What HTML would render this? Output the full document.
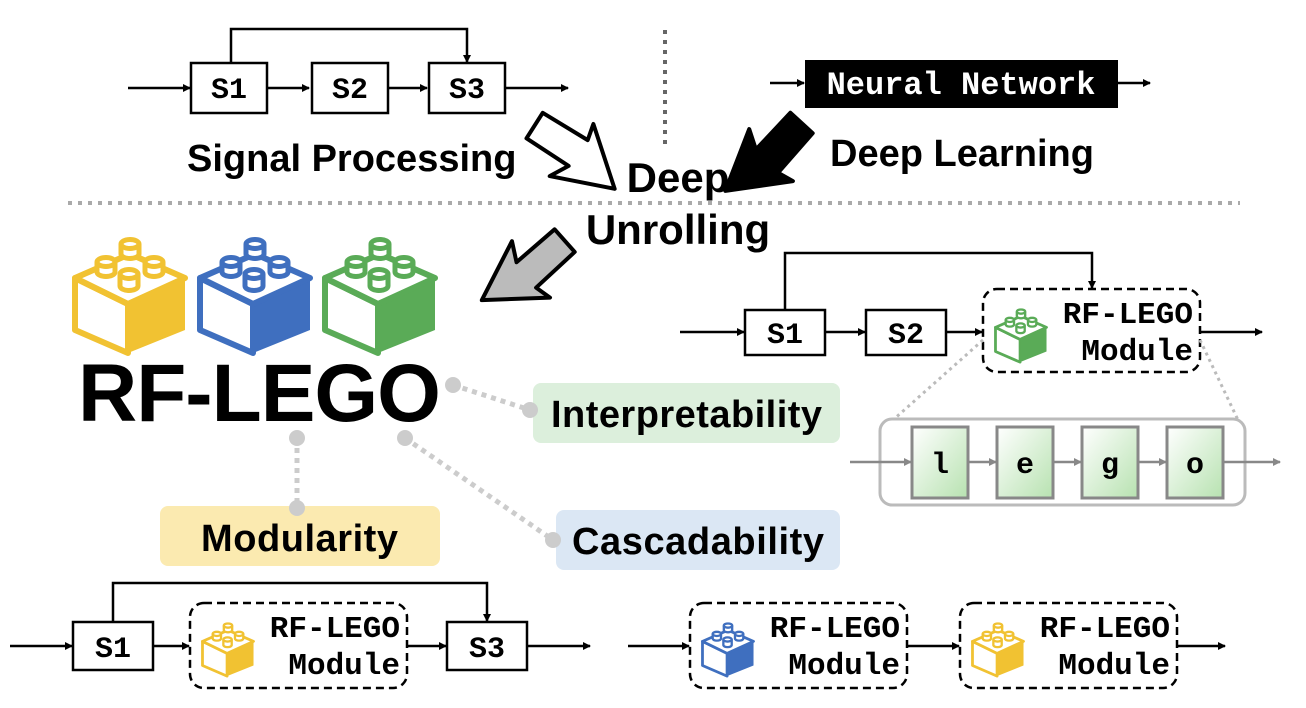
<!DOCTYPE html>
<html><head><meta charset="utf-8"><style>
html,body{margin:0;padding:0;background:#fff;}
svg{display:block;}
.m{font-family:"Liberation Mono",monospace;font-weight:bold;}
.s{font-family:"Liberation Sans",sans-serif;font-weight:bold;}
</style></head><body>
<svg width="1306" height="708" viewBox="0 0 1306 708" xmlns="http://www.w3.org/2000/svg">
<defs>
<marker id="ah" markerWidth="8" markerHeight="8" refX="7" refY="4" orient="auto" markerUnits="userSpaceOnUse"><path d="M0,0L8,4L0,8z" fill="#000"/></marker>
<marker id="ag" markerWidth="8" markerHeight="8" refX="7" refY="4" orient="auto" markerUnits="userSpaceOnUse"><path d="M0,0L8,4L0,8z" fill="#888"/></marker>
<linearGradient id="gg" x1="0" y1="0" x2="1" y2="1"><stop offset="0" stop-color="#fff"/><stop offset="1" stop-color="#b7e2b0"/></linearGradient>
<symbol id="lego" viewBox="0 0 120 125">
 <g stroke-width="6" stroke-linejoin="round">
  <polygon points="5,46 58,72 58,121 5,98" fill="#fff"/>
  <polygon points="58,72 115,46 115,98 58,121" stroke="none"/>
  <polygon points="5,46 60,22 115,46 58,72" fill="#fff"/>
  <g fill="#fff" stroke-width="5">
   <path d="M51,12 v10 a9,4.5 0 0 0 18,0 v-10"/><ellipse cx="60" cy="12" rx="9" ry="4.5"/>
   <path d="M27,30 v10 a9,4.5 0 0 0 18,0 v-10"/><ellipse cx="36" cy="30" rx="9" ry="4.5"/>
   <path d="M75,30 v10 a9,4.5 0 0 0 18,0 v-10"/><ellipse cx="84" cy="30" rx="9" ry="4.5"/>
   <path d="M50,42 v12 a9,4.5 0 0 0 18,0 v-12"/><ellipse cx="59" cy="42" rx="9" ry="4.5"/>
  </g>
 </g>
</symbol>
</defs>

<g stroke="#000" stroke-width="2.5" fill="none">
 <line x1="128" y1="88" x2="190" y2="88" marker-end="url(#ah)"/>
 <rect x="191" y="63" width="76" height="50" fill="#fff"/>
 <line x1="267" y1="88" x2="309" y2="88" marker-end="url(#ah)"/>
 <rect x="312" y="63" width="76" height="50" fill="#fff"/>
 <line x1="388" y1="88" x2="427" y2="88" marker-end="url(#ah)"/>
 <rect x="429" y="63" width="76" height="50" fill="#fff"/>
 <line x1="505" y1="88" x2="568" y2="88" marker-end="url(#ah)"/>
 <polyline points="231,63 231,29 467,29 467,62" marker-end="url(#ah)"/>
</g>
<g class="m" font-size="30" text-anchor="middle">
 <text x="229" y="98">S1</text><text x="350" y="98">S2</text><text x="467" y="98">S3</text>
</g>
<text class="s" x="187" y="171" font-size="38">Signal Processing</text>

<line x1="665" y1="30" x2="665" y2="150" stroke="#666" stroke-width="4" stroke-dasharray="4,6"/>
<line x1="68" y1="203" x2="1240" y2="203" stroke="#aaa" stroke-width="4" stroke-dasharray="4,6"/>

<line x1="770" y1="83" x2="804" y2="83" stroke="#000" stroke-width="2.5" marker-end="url(#ah)"/>
<rect x="805" y="60" width="313" height="48" fill="#000"/>
<text class="m" x="961" y="94" font-size="32" fill="#fff" text-anchor="middle">Neural Network</text>
<line x1="1118" y1="83" x2="1150" y2="83" stroke="#000" stroke-width="2.5" marker-end="url(#ah)"/>
<text class="s" x="830" y="166" font-size="38">Deep Learning</text>

<text class="s" x="678" y="192" font-size="42" text-anchor="middle">Deep</text>
<text class="s" x="678" y="244" font-size="42" text-anchor="middle">Unrolling</text>

<g stroke="#000" stroke-width="4" stroke-linejoin="round">
 <polygon transform="translate(535,122) rotate(40)" points="0,-12 52,-20 46,-36 104,0 46,32 54,12 4,18" fill="#fff"/>
 <polygon transform="translate(805,124) rotate(140)" points="0,-12 52,-20 46,-36 104,0 46,32 54,12 4,18" fill="#000"/>
 <polygon transform="translate(568,242) rotate(146)" points="0,-12 52,-20 46,-36 104,0 46,32 54,12 4,18" fill="#bbb"/>
</g>

<use href="#lego" x="70" y="232" width="120" height="125" fill="#f1c232" stroke="#f1c232"/>
<use href="#lego" x="195" y="232" width="120" height="125" fill="#3f6fbf" stroke="#3f6fbf"/>
<use href="#lego" x="320" y="232" width="120" height="125" fill="#5aab57" stroke="#5aab57"/>
<text class="s" x="78" y="421" font-size="82" letter-spacing="-1">RF-LEGO</text>

<g stroke="#ccc" stroke-width="5" stroke-dasharray="5,5" fill="none">
 <line x1="453" y1="385" x2="530" y2="410"/>
 <line x1="405" y1="438" x2="553" y2="540"/>
 <line x1="297" y1="438" x2="297" y2="508"/>
</g>
<rect x="533" y="383" width="307" height="60" rx="8" fill="#dcefdc"/>
<rect x="556" y="510" width="284" height="60" rx="8" fill="#dbe7f4"/>
<rect x="160" y="506" width="280" height="60" rx="8" fill="#fbeab0"/>
<g fill="#ccc">
 <circle cx="453" cy="385" r="8"/><circle cx="530" cy="410" r="8"/>
 <circle cx="405" cy="438" r="8"/><circle cx="553" cy="540" r="8"/>
 <circle cx="297" cy="438" r="8"/><circle cx="297" cy="508" r="8"/>
</g>
<text class="s" x="551" y="427" font-size="38" textLength="271">Interpretability</text>
<text class="s" x="572" y="554" font-size="38" textLength="252">Cascadability</text>
<text class="s" x="201" y="551" font-size="38" textLength="197">Modularity</text>

<g stroke="#000" stroke-width="2.5" fill="none">
 <line x1="680" y1="332" x2="744" y2="332" marker-end="url(#ah)"/>
 <rect x="745" y="310" width="80" height="45" fill="#fff"/>
 <line x1="825" y1="332" x2="865" y2="332" marker-end="url(#ah)"/>
 <rect x="866" y="310" width="80" height="45" fill="#fff"/>
 <line x1="946" y1="332" x2="982" y2="332" marker-end="url(#ah)"/>
 <rect x="983" y="289" width="217" height="83" rx="14" stroke-dasharray="8,5"/>
 <line x1="1200" y1="332" x2="1262" y2="332" marker-end="url(#ah)"/>
 <polyline points="785,310 785,253 1092,253 1092,288" marker-end="url(#ah)"/>
</g>
<g class="m" font-size="30" text-anchor="middle"><text x="785" y="343">S1</text><text x="906" y="343">S2</text></g>
<use href="#lego" x="993" y="306" width="56" height="58" fill="#5aab57" stroke="#5aab57"/>
<g class="m" font-size="31" text-anchor="end"><text x="1193" y="323">RF-LEGO</text><text x="1193" y="360">Module</text></g>
<g stroke="#bbb" stroke-width="3" stroke-dasharray="3,4"><line x1="983" y1="340" x2="893" y2="420"/><line x1="1200" y1="340" x2="1238" y2="420"/></g>
<rect x="880" y="419" width="365" height="86" rx="12" fill="#fff" stroke="#bbb" stroke-width="3"/>
<g stroke="#888" stroke-width="2.5">
 <line x1="850" y1="462" x2="911" y2="462" marker-end="url(#ag)"/>
 <line x1="968" y1="462" x2="996" y2="462" marker-end="url(#ag)"/>
 <line x1="1053" y1="462" x2="1081" y2="462" marker-end="url(#ag)"/>
 <line x1="1138" y1="462" x2="1166" y2="462" marker-end="url(#ag)"/>
 <line x1="1223" y1="462" x2="1280" y2="462" marker-end="url(#ag)"/>
 <rect x="912" y="427" width="56" height="71" fill="url(#gg)" stroke-width="3"/>
 <rect x="997" y="427" width="56" height="71" fill="url(#gg)" stroke-width="3"/>
 <rect x="1082" y="427" width="56" height="71" fill="url(#gg)" stroke-width="3"/>
 <rect x="1167" y="427" width="56" height="71" fill="url(#gg)" stroke-width="3"/>
</g>
<g class="m" font-size="30" text-anchor="middle"><text x="940" y="473">l</text><text x="1025" y="473">e</text><text x="1110" y="473">g</text><text x="1195" y="473">o</text></g>

<g stroke="#000" stroke-width="2.5" fill="none">
 <line x1="10" y1="646" x2="72" y2="646" marker-end="url(#ah)"/>
 <rect x="73" y="622" width="80" height="48" fill="#fff"/>
 <line x1="153" y1="646" x2="189" y2="646" marker-end="url(#ah)"/>
 <rect x="190" y="603" width="217" height="85" rx="14" stroke-dasharray="8,5"/>
 <line x1="407" y1="646" x2="446" y2="646" marker-end="url(#ah)"/>
 <rect x="447" y="622" width="80" height="48" fill="#fff"/>
 <line x1="527" y1="646" x2="590" y2="646" marker-end="url(#ah)"/>
 <polyline points="113,622 113,583 487,583 487,621" marker-end="url(#ah)"/>
</g>
<g class="m" font-size="30" text-anchor="middle"><text x="113" y="657">S1</text><text x="487" y="657">S3</text></g>
<use href="#lego" x="200" y="620" width="56" height="58" fill="#f1c232" stroke="#f1c232"/>
<g class="m" font-size="31" text-anchor="end"><text x="400" y="637">RF-LEGO</text><text x="400" y="674">Module</text></g>

<g stroke="#000" stroke-width="2.5" fill="none">
 <line x1="628" y1="646" x2="689" y2="646" marker-end="url(#ah)"/>
 <rect x="690" y="603" width="217" height="85" rx="14" stroke-dasharray="8,5"/>
 <line x1="907" y1="646" x2="959" y2="646" marker-end="url(#ah)"/>
 <rect x="960" y="603" width="217" height="85" rx="14" stroke-dasharray="8,5"/>
 <line x1="1177" y1="646" x2="1225" y2="646" marker-end="url(#ah)"/>
</g>
<use href="#lego" x="700" y="620" width="56" height="58" fill="#3f6fbf" stroke="#3f6fbf"/>
<use href="#lego" x="970" y="620" width="56" height="58" fill="#f1c232" stroke="#f1c232"/>
<g class="m" font-size="31" text-anchor="end"><text x="900" y="637">RF-LEGO</text><text x="900" y="674">Module</text><text x="1170" y="637">RF-LEGO</text><text x="1170" y="674">Module</text></g>
</svg>
</body></html>
